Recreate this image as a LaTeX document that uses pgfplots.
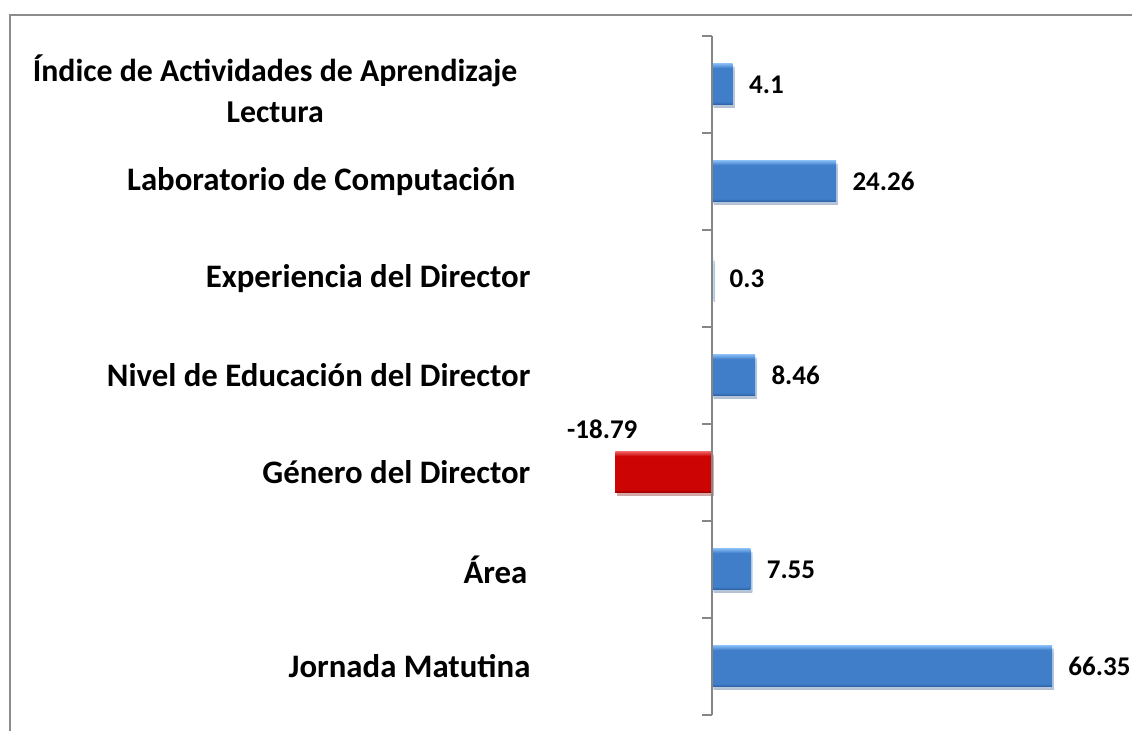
\documentclass[border=0pt]{standalone}
\usepackage{pgfplots}
\pgfplotsset{compat=1.18}
\usepackage{fontspec}
\setmainfont{Carlito}
\usetikzlibrary{shadows}
\definecolor{framegray}{RGB}{140,140,140}
\definecolor{axgray}{RGB}{134,134,134}
\definecolor{bluetop}{RGB}{125,180,240}
\definecolor{bluemid}{RGB}{64,126,202}
\definecolor{bluebot}{RGB}{42,92,158}
\definecolor{redtop}{RGB}{235,85,85}
\definecolor{redmid}{RGB}{204,4,4}
\definecolor{redbot}{RGB}{145,0,0}
\pgfdeclareverticalshading{bluebevel}{100bp}{color(0bp)=(bluebot); color(25bp)=(bluebot); color(29bp)=(bluemid); color(70bp)=(bluemid); color(75bp)=(bluetop); color(100bp)=(bluetop)}
\pgfdeclareverticalshading{redbevel}{100bp}{color(0bp)=(redbot); color(25bp)=(redbot); color(29bp)=(redmid); color(70bp)=(redmid); color(75bp)=(redtop); color(100bp)=(redtop)}
\tikzset{valfont/.style={font=\fontsize{13.5bp}{15bp}\selectfont\bfseries, inner sep=0pt, text=black}}
\pgfplotsset{
  bluebar/.style={draw=none, fill=bluemid, shade, shading=bluebevel,
    drop shadow={shadow xshift=1bp, shadow yshift=-1.5bp, opacity=0.25},
    every node near coord/.append style={valfont, anchor=west, xshift=8bp}},
}
\begin{document}
\begin{tikzpicture}
\useasboundingbox (0,0) rectangle (566bp,365.5bp);
\draw[framegray, line width=1bp] (566bp,358bp) -- (5bp,358bp) -- (5bp,0);
\begin{axis}[
  at={(278.9bp,8bp)}, anchor=south west,
  scale only axis, width=256.5bp, height=339.5bp,
  xmin=-30, xmax=70, ymin=-0.5, ymax=6.5,
  xbar, bar width=20.5bp, bar shift=0pt,
  axis line style={draw=none}, major tick length=0pt,
  xtick=\empty, ytick={0,1,2,3,4,5,6},
  yticklabels={
    {Jornada Matutina},
    {Área\rule{1.5bp}{0pt}},
    {Género del Director},
    {Nivel de Educación del Director},
    {Experiencia del Director},
    {Laboratorio de Computación\rule{7.5bp}{0pt}},
    {\raisebox{-4.5bp}[\height][\depth]{\fontsize{15.9bp}{20.5bp}\selectfont\begin{tabular}{@{}c@{}}Índice de Actividades de Aprendizaje\\Lectura\end{tabular}}\rule{6.5bp}{0pt}}
  },
  yticklabel style={font=\fontsize{16.4bp}{20.5bp}\selectfont\bfseries, inner sep=0pt, anchor=east, xshift=-13.5bp},
  clip=false,
  /pgf/number format/assume math mode=true,
  nodes near coords={\pgfmathprintnumber{\pgfplotspointmeta}},
]
\addplot[bluebar] coordinates {(66.35,0)};
\addplot[bluebar] coordinates {(7.55,1)};
\addplot[bluebar] coordinates {(8.46,3)};
\addplot[bluebar] coordinates {(0.3,4)};
\addplot[bluebar] coordinates {(24.26,5)};
\addplot[bluebar] coordinates {(4.1,6)};
\addplot[draw=none, fill=redmid, shade, shading=redbevel,
  drop shadow={shadow xshift=1bp, shadow yshift=-1.5bp, opacity=0.25},
  every node near coord/.append style={valfont, anchor=center, xshift=-6.5bp, yshift=21.75bp}]
  coordinates {(-18.79,2)};
\draw[axgray, line width=1bp] (axis cs:0,-0.5) -- (axis cs:0,6.5);
\pgfplotsinvokeforeach{-0.5,0.5,1.5,2.5,3.5,4.5,5.5,6.5}{
  \draw[axgray, line width=1bp] (axis cs:0,#1) -- ([xshift=-5bp]axis cs:0,#1);
}
\end{axis}
\end{tikzpicture}
\end{document}
